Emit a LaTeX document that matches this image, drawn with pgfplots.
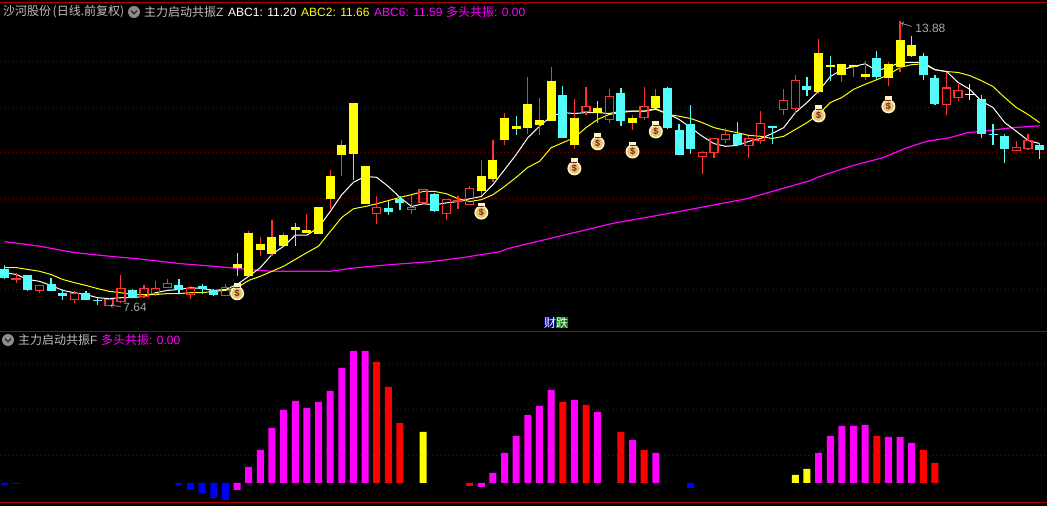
\documentclass[border=0pt]{standalone}
\usepackage{fontspec}
\usepackage{pgfplots}
\usepackage{pgfplotstable}
\pgfplotsset{compat=1.18}
\setmainfont{Liberation Sans}
\newfontfamily\cjk{Noto Sans CJK SC}

\definecolor{upred}{RGB}{255,50,50}
\definecolor{downcyan}{RGB}{84,252,252}
\definecolor{gridred}{RGB}{125,0,0}
\definecolor{framered}{RGB}{176,0,0}
\definecolor{labelgray}{RGB}{192,192,192}
\definecolor{notegray}{RGB}{168,168,168}
\definecolor{pmagenta}{RGB}{255,0,255}
\definecolor{pyellow}{RGB}{255,255,0}
\definecolor{pred}{RGB}{255,0,0}
\definecolor{pblue}{RGB}{0,0,255}
\definecolor{bagrim}{RGB}{255,244,200}
\definecolor{bagbody}{RGB}{232,196,112}
\definecolor{bagink}{RGB}{110,40,20}

% candles: i, body top, body bottom, high, low (price)
\pgfplotstableread{
i top bot high low
0 8.44 8.26 8.53 8.24
2 8.31 8.00 8.31 7.96
4 8.13 7.96 8.26 7.96
5 7.93 7.85 8.02 7.76
7 7.93 7.76 7.96 7.76
8 7.76 7.74 7.82 7.65
11 7.98 7.82 8.02 7.82
15 8.09 8.00 8.24 7.93
17 8.07 8.02 8.11 7.91
18 7.98 7.89 8.02 7.85
33 9.79 9.71 9.95 9.64
34 9.99 9.90 10.04 9.75
37 10.10 9.73 10.12 9.71
48 12.26 11.33 12.47 11.33
53 12.30 11.69 12.42 11.58
57 12.42 11.55 12.45 11.51
58 11.49 10.94 11.64 10.94
59 11.64 11.09 12.04 10.98
63 11.40 11.18 11.67 11.16
66 11.58 11.55 11.58 11.20
69 12.47 12.37 12.67 12.24
75 13.08 12.67 13.22 12.60
79 13.13 12.71 13.19 12.60
80 12.64 12.06 12.71 12.04
84 12.17 11.40 12.26 11.33
85 11.42 11.40 11.64 11.18
86 11.36 11.09 11.40 10.78
89 11.16 11.07 11.20 10.87
}\cyancandles

\pgfplotstableread{
i top bot high low
1 8.24 8.22 8.37 8.15
3 8.09 7.98 8.09 7.93
6 7.91 7.78 7.96 7.71
9 7.78 7.65 7.82 7.64
10 8.02 7.74 8.31 7.71
12 8.02 7.85 8.09 7.82
13 8.02 7.91 8.18 7.85
14 8.13 8.04 8.22 8.04
16 8.02 7.89 8.07 7.80
19 8.04 7.87 8.13 7.87
32 9.79 9.66 10.06 9.43
35 9.79 9.75 10.08 9.66
36 10.19 9.90 10.19 9.90
38 9.97 9.66 9.99 9.52
39 9.95 9.93 10.04 9.77
40 10.21 9.86 10.26 9.86
50 12.02 11.91 12.45 11.82
52 12.24 11.73 12.40 11.66
55 12.02 11.77 12.45 11.71
60 11.00 10.92 11.03 10.54
61 11.31 11.00 11.31 10.89
62 11.40 11.29 11.55 11.22
64 11.31 11.16 11.36 10.89
65 11.64 11.27 11.91 11.20
67 12.15 11.95 12.40 11.82
68 12.58 11.97 12.71 11.86
81 12.42 12.06 12.76 11.82
82 12.37 12.21 12.51 12.13
87 11.11 11.05 11.25 11.05
88 11.27 11.09 11.40 11.05
}\redcandles

\pgfplotstableread{
i top bot high low
21 9.25 8.29 9.28 8.29
22 8.99 8.86 9.16 8.73
23 9.16 8.77 9.52 8.73
24 9.19 8.95 9.23 8.95
26 9.30 9.23 9.66 9.23
27 9.82 9.21 9.82 9.21
28 10.48 9.99 10.61 9.77
29 11.18 10.96 11.27 10.48
31 10.70 9.88 10.70 9.88
41 10.50 10.17 10.85 10.08
42 10.85 10.43 11.27 10.35
43 11.77 11.27 11.86 11.16
45 12.06 11.55 12.67 11.40
46 11.71 11.60 12.21 11.38
47 12.58 11.69 12.87 11.69
49 11.77 11.16 12.17 11.09
54 11.77 11.66 11.82 11.49
56 12.24 11.99 12.39 11.99
70 13.19 12.34 13.50 12.28
72 12.95 12.71 12.95 12.56
73 12.93 12.87 12.93 12.67
74 12.73 12.67 13.02 12.60
76 12.95 12.64 12.98 12.47
77 13.48 12.87 13.88 12.78
}\yellowredwick

\pgfplotstableread{
i top bot high low
20 8.55 8.48 8.81 8.29
25 9.38 9.30 9.45 8.95
30 12.08 10.98 12.10 10.41
44 11.58 11.51 11.80 11.38
51 11.99 11.86 12.13 11.66
71 12.93 12.87 13.13 12.58
78 13.37 13.13 13.55 13.09
}\yellowcyanwick

\pgfplotstableread{
i top bot high low
83 12.28 12.26 12.50 12.15
}\whitecandles

% ABC1, ABC2
\pgfplotstableread{
i abca abcb
0 8.37 8.48
1 8.33 8.48
2 8.22 8.44
3 8.18 8.40
4 8.09 8.33
5 7.98 8.22
6 7.93 8.15
7 7.89 8.09
8 7.82 8.02
9 7.80 7.96
10 7.82 7.93
11 7.82 7.89
12 7.85 7.89
13 7.93 7.89
14 7.98 7.91
15 8.00 7.91
16 8.04 7.93
17 8.02 7.93
18 7.98 7.96
19 8.00 7.98
20 8.11 8.04
21 8.29 8.20
22 8.48 8.29
23 8.77 8.40
24 8.95 8.51
25 9.19 8.66
26 9.19 8.81
27 9.36 8.95
28 9.71 9.27
29 10.08 9.58
30 10.35 9.77
31 10.48 9.82
32 10.46 9.88
33 10.26 9.95
34 10.02 10.02
35 9.82 10.08
36 9.88 10.15
37 9.86 10.15
38 9.90 10.10
39 9.93 9.99
40 9.99 9.93
41 10.04 9.97
42 10.30 10.08
43 10.63 10.26
44 10.96 10.46
45 11.33 10.68
46 11.58 10.81
47 11.80 11.11
48 11.88 11.22
49 11.86 11.33
50 11.88 11.55
51 11.88 11.73
52 11.86 11.84
53 11.91 11.88
54 11.91 11.91
55 11.91 11.91
56 11.95 11.97
57 11.86 11.84
58 11.73 11.80
59 11.55 11.75
60 11.36 11.66
61 11.20 11.55
62 11.14 11.49
63 11.16 11.44
64 11.25 11.38
65 11.31 11.36
66 11.42 11.31
67 11.55 11.36
68 11.88 11.51
69 12.10 11.66
70 12.35 11.84
71 12.67 12.10
72 12.82 12.21
73 12.89 12.39
74 12.95 12.50
75 12.80 12.60
76 12.87 12.71
77 12.98 12.87
78 12.98 12.93
79 12.98 12.95
80 12.82 12.82
81 12.78 12.78
82 12.54 12.76
83 12.39 12.69
84 12.13 12.58
85 11.99 12.45
86 11.66 12.21
87 11.47 11.99
88 11.27 11.84
89 11.20 11.66
}\abclines

% ABC6
\pgfplotstableread{
i p
0 9.05
3 8.95
6 8.81
9 8.73
12 8.66
15 8.57
18 8.51
21 8.44
23 8.40
28 8.40
30.3 8.48
33.4 8.55
36.6 8.61
39.4 8.70
42.6 8.83
43.3 8.90
46.9 9.12
52.3 9.45
58 9.71
63.8 9.99
69.3 10.39
69.9 10.46
72.7 10.70
75.5 10.89
77.6 11.11
79.3 11.25
81.3 11.33
82.8 11.44
84.1 11.47
86.7 11.55
89 11.59
}\abcsix

% buy signals
\pgfplotstableread{
i p
20 7.96
41 9.73
49 10.70
51 11.25
54 11.07
56 11.51
70 11.86
76 12.06
}\bags

% lower panel
\pgfplotstableread{
i v
20 -7
21 16
22 33
23 55
24 73
25 82
26 75
27 81
28 92
29 115
30 132
31 132
41 -4
42 10
43 30
44 47
45 68
46 77
47 93
49 83
51 71
54 43
56 30
70 30
71 47
72 57
73 57
74 58
76 46
77 46
78 40
}\barsmagenta

\pgfplotstableread{
i v
32 121
33 96
34 60
40 -3
48 81
50 78
53 51
55 33
75 47
79 33
80 20
}\barsred

\pgfplotstableread{
i v
36 51
68 8
69 14
}\barsyellow

\pgfplotstableread{
i v
0 -2
1 -1
15 -2
16 -7
17 -10
18 -15
19 -17
59 -5
}\barsblue

\pgfdeclareplotmark{moneybag}{%
  \pgfsetfillcolor{bagrim}%
  \pgfpathcircle{\pgfpoint{0pt}{-2pt}}{7pt}\pgfusepathqfill
  \pgfpathrectangle{\pgfpoint{-3.5pt}{3pt}}{\pgfpoint{7pt}{5pt}}\pgfusepathqfill
  \pgfsetfillcolor{bagbody}%
  \pgfpathcircle{\pgfpoint{0pt}{-2pt}}{5.5pt}\pgfusepathqfill
  \pgfsetfillcolor{bagink}%
  \pgfpathrectangle{\pgfpoint{-3pt}{3.5pt}}{\pgfpoint{6pt}{1.2pt}}\pgfusepathqfill
  \pgftext[at={\pgfpoint{0pt}{-2pt}}]{\fontsize{9pt}{9pt}\selectfont\bfseries\textcolor{bagink}{\$}}%
}

\pgfplotsset{
  panel/.style={
    scale only axis, width=1047pt,
    xmin=-0.387, xmax=89.64,
    xtick=\empty, yticklabels={},
    axis line style={draw=none}, tick style={draw=none},
    ymajorgrids,
    major grid style={color=gridred, line width=1pt, dash pattern=on 1pt off 3pt},
  },
  yrule/.style 2 args={draw=none, mark=none, forget plot,
    error bars/.cd, y dir=both, y explicit, error mark=none,
    error bar style={color=#1, line width=#2, solid}},
  xrule/.style={draw=none, mark=none, forget plot,
    error bars/.cd, x dir=both, x fixed=0.344, error mark=none,
    error bar style={color=#1, line width=1.2pt, solid}},
}

% high wick and low wick only, the body stays open in the middle
\newcommand{\wicks}[2]{%
  \addplot[yrule={#2}{1.2pt}] table[x=i, y=top,
    y error plus expr=\thisrow{high}-\thisrow{top}, y error minus expr=0] {#1};
  \addplot[yrule={#2}{1.2pt}] table[x=i, y=bot,
    y error plus expr=0, y error minus expr=\thisrow{bot}-\thisrow{low}] {#1};
}
\newcommand{\bodies}[2]{%
  \addplot[yrule={#2}{9pt}] table[x=i, y=top,
    y error plus expr=0, y error minus expr=\thisrow{top}-\thisrow{bot}] {#1};
}
\newcommand{\hollow}[2]{%
  \addplot[yrule={#2}{1.4pt}] table[x expr=\thisrow{i}-0.344, y=top,
    y error plus expr=0.011, y error minus expr=\thisrow{top}-\thisrow{bot}+0.011] {#1};
  \addplot[yrule={#2}{1.4pt}] table[x expr=\thisrow{i}+0.344, y=top,
    y error plus expr=0.011, y error minus expr=\thisrow{top}-\thisrow{bot}+0.011] {#1};
  \addplot[xrule={#2}] table[x=i, y=top] {#1};
  \addplot[xrule={#2}] table[x=i, y=bot] {#1};
}
\newcommand{\bars}[2]{%
  \addplot[ybar, bar width=7pt, bar shift=0pt, fill=#2, draw=none, forget plot]
    table[x=i, y=v] {#1};
}
\newcommand{\chevron}[2]{%
  \fill[black!45!white] (#1pt,#2pt) circle (6pt);
  \draw[black!85!white, line width=1.3pt] (#1pt-3pt,#2pt+1.3pt) -- (#1pt,#2pt-1.7pt) -- (#1pt+3pt,#2pt+1.3pt);
}

\begin{document}
\begin{tikzpicture}[x=1pt, y=1pt, every node/.style={inner sep=0pt, font=\fontsize{12pt}{12pt}\selectfont}]
\fill[black] (0,0) rectangle (1047,506);
\path[use as bounding box] (0,0) rectangle (1047,506);

\begin{axis}[
    panel,
    at={(0pt,175pt)}, anchor=south west,
    height=331pt,
    ymin=7.090, ymax=14.349,
    ytick={8,9,10,11,12,13},
  ]
  \addplot[pmagenta, line width=1.2pt, forget plot] table[x=i, y=p] {\abcsix};
  \addplot[pyellow, line width=1pt, forget plot] table[x=i, y=abcb] {\abclines};
  \addplot[white, line width=1pt, forget plot] table[x=i, y=abca] {\abclines};

  \wicks{\cyancandles}{downcyan}
  \bodies{\cyancandles}{downcyan}
  \wicks{\redcandles}{upred}
  \hollow{\redcandles}{upred}
  \wicks{\yellowredwick}{upred}
  \bodies{\yellowredwick}{pyellow}
  \wicks{\yellowcyanwick}{downcyan}
  \bodies{\yellowcyanwick}{pyellow}
  \wicks{\whitecandles}{white}
  \bodies{\whitecandles}{white}

  \addplot[only marks, mark=moneybag, forget plot] table[x=i, y=p] {\bags};

  \draw[notegray, <-, line width=0.7pt] (axis cs:77.1,13.84) -- (axis cs:78,13.77);
  \node[anchor=west, text=notegray] at (axis cs:78.3,13.72) {13.88};
  \draw[notegray, <-, line width=0.7pt] (axis cs:9.1,7.65) -- (axis cs:10,7.63);
  \node[anchor=west, text=notegray] at (axis cs:10.2,7.60) {7.64};
\end{axis}

\begin{axis}[
    panel,
    at={(0pt,0pt)}, anchor=south west,
    height=175pt,
    ymin=-23, ymax=152,
    ytick={27.5,73.5,119.5},
  ]
  \bars{\barsmagenta}{pmagenta}
  \bars{\barsred}{pred}
  \bars{\barsyellow}{pyellow}
  \bars{\barsblue}{pblue}
\end{axis}

% panel frame lines
\draw[framered, line width=1pt] (0,503.5) -- (1047,503.5);
\draw[framered, line width=1pt] (0,174.5) -- (1047,174.5);
\draw[framered, line width=1pt] (0,3.5) -- (1047,3.5);

% upper header
\node[anchor=west, text=labelgray] at (3,494) {\cjk 沙河股份\hspace{1.5pt}(日线.前复权)};
\chevron{134}{494}
\node[anchor=west, text=labelgray] at (144,494) {\cjk 主力启动共振\fontspec{Liberation Sans}Z};
\node[anchor=west, text=white] at (228,494) {ABC1: 11.20};
\node[anchor=west, text=pyellow] at (301,494) {ABC2: 11.66};
\node[anchor=west, text=pmagenta] at (374,494) {ABC6: 11.59};
\node[anchor=west, text=pmagenta] at (446,494) {{\cjk 多头共振}: 0.00};

% lower header
\chevron{8}{166}
\node[anchor=west, text=labelgray] at (18,166) {\cjk 主力启动共振\fontspec{Liberation Sans}F};
\node[anchor=west, text=pmagenta] at (101,166) {{\cjk 多头共振}: 0.00};

% markers at the foot of the price panel
\fill[blue!50!black] (544,178) rectangle (556,189);
\fill[green!50!black] (556,178) rectangle (568,189);
\node[text=white] at (550,183.5) {\cjk 财};
\node[text=white] at (562,183.5) {\cjk 跌};
\end{tikzpicture}
\end{document}
